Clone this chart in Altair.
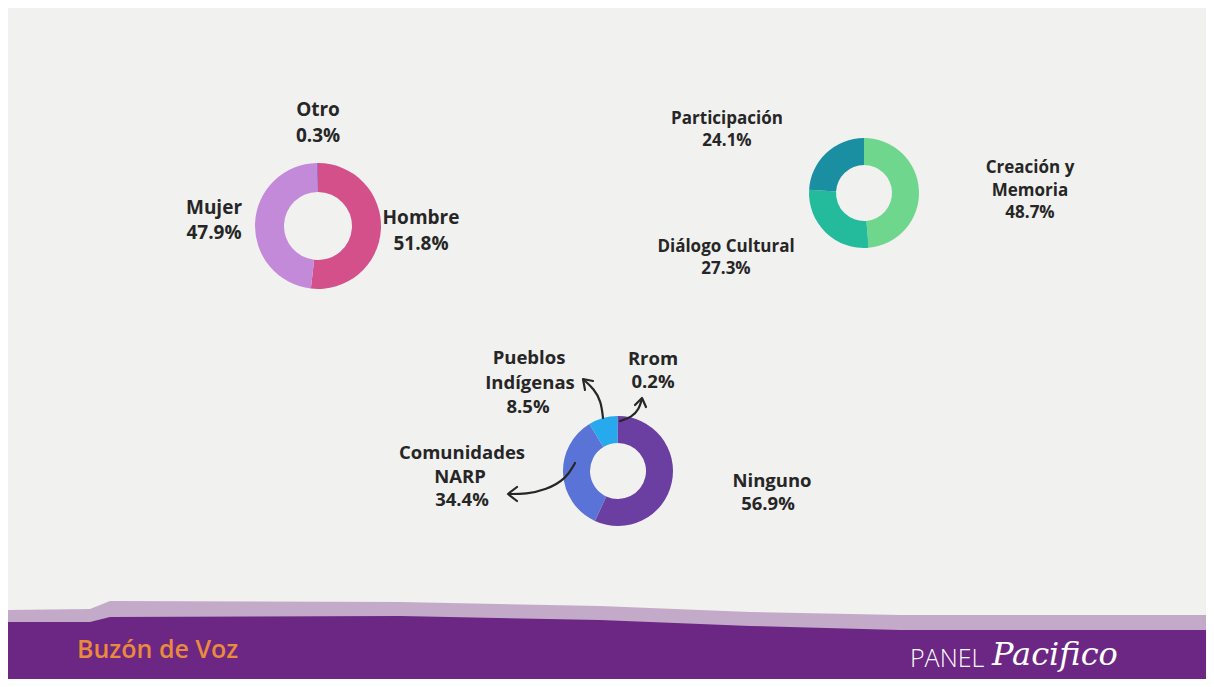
import altair as alt
import pandas as pd

# ---------------- data ----------------
gender_cat = ["Hombre", "Mujer", "Otro"]
gender_val = [51.8, 47.9, 0.3]
gender_col = ["#d4508b", "#c38ad9", "#a070c8"]

axis_cat = ["Creación y Memoria", "Diálogo Cultural", "Participación"]
axis_val = [48.7, 27.3, 24.1]
axis_col = ["#6fd68d", "#24bb9c", "#1b8fa2"]

ethn_cat = ["Ninguno", "Comunidades NARP", "Pueblos Indígenas", "Rrom"]
ethn_val = [56.9, 34.4, 8.5, 0.2]
ethn_col = ["#6b3fa1", "#5a73d7", "#27a9ed", "#3d6fd4"]

# label lines per donut: (text, x, y)
gender_labels = [("Otro", 318, 110), ("0.3%", 318, 136),
                 ("Mujer", 214, 208), ("47.9%", 214, 233),
                 ("Hombre", 421, 218), ("51.8%", 421, 244)]
axis_labels = [("Participación", 727, 119), ("24.1%", 727, 141),
               ("Creación y", 1030, 168), ("Memoria", 1030, 191), ("48.7%", 1030, 213),
               ("Diálogo Cultural", 726, 247), ("27.3%", 726, 269)]
ethn_labels = [("Pueblos", 529, 358), ("Indígenas", 530, 383), ("8.5%", 528, 407),
               ("Rrom", 653, 359), ("0.2%", 653, 382),
               ("Comunidades", 462, 453), ("NARP", 460, 477), ("34.4%", 462, 500),
               ("Ninguno", 772, 481), ("56.9%", 768, 504)]

# donut layout: center x, center y, inner radius, outer radius
gender_geo = (318, 226, 34, 63)
axis_geo = (864, 193, 28, 55)
ethn_geo = (618, 471, 28, 55)

# annotation arrows (shaft points, head points)
arrow_shafts = {
    "pueblos": [(603, 418), (601, 401), (594, 389), (584, 380)],
    "rrom": [(620, 421), (632, 417), (639, 409), (642, 399)],
    "narp": [(575, 463), (566, 479), (546, 490), (526, 494), (509, 494)],
}
arrow_heads = {
    "pueblos": [(585, 390), (583, 379), (593, 381)],
    "rrom": [(635, 405), (642, 398), (646, 407)],
    "narp": [(517, 487), (508, 494), (517, 501)],
}

# footer band top-edge profiles (x, top y)
band_solid = [(8, 622), (90, 622), (110, 617), (400, 616), (600, 620), (750, 626), (900, 630), (1206, 630)]
band_rough = [(8, 610), (90, 609), (110, 601), (400, 602), (600, 606), (750, 612), (900, 615), (1206, 615)]

footer_left = "Buzón de Voz"
footer_right_a = "PANEL"
footer_right_b = "Pacifico"

BG = "#f1f1ef"
PURPLE = "#6c2683"
TEXT = "#262626"

# ---------------- scales ----------------
W, H = 1198, 671
BOTTOM = 8 + H
xs = alt.Scale(domain=[8, 8 + W], nice=False, zero=False)
ys = alt.Scale(domain=[BOTTOM, 8], nice=False, zero=False)


def X(f):
    return alt.X(f, type="quantitative", scale=xs, axis=None)


def Y(f):
    return alt.Y(f, type="quantitative", scale=ys, axis=None)


def donut(cats, vals, cols, geo):
    cx, cy, r0, r1 = geo
    df = pd.DataFrame({"cat": cats, "val": vals, "col": cols,
                       "ord": list(range(len(cats))), "cx": cx, "cy": cy})
    return alt.Chart(df).mark_arc(innerRadius=r0, radius=r1).encode(
        theta=alt.Theta("val:Q", stack=True),
        order=alt.Order("ord:Q"),
        color=alt.Color("col:N", scale=None),
        x=X("cx"), y=Y("cy"),
    )


def labels(rows, size):
    df = pd.DataFrame(rows, columns=["t", "x", "y"])
    return alt.Chart(df).mark_text(font="Open Sans", fontWeight="bold", fontSize=size,
                                   color=TEXT, baseline="middle", align="center").encode(
        x=X("x"), y=Y("y"), text="t:N")


def band_area(profile, opacity):
    df = pd.DataFrame(profile, columns=["x", "y"])
    df["y2"] = BOTTOM
    return alt.Chart(df).mark_area(color=PURPLE, opacity=opacity).encode(
        x=X("x"), y=Y("y"), y2="y2")


# arrows
shaft_rows = [(k, i, x, y) for k, pts in arrow_shafts.items() for i, (x, y) in enumerate(pts)]
head_rows = [(k, i, x, y) for k, pts in arrow_heads.items() for i, (x, y) in enumerate(pts)]
shafts = alt.Chart(pd.DataFrame(shaft_rows, columns=["g", "o", "x", "y"])).mark_line(
    color=TEXT, strokeWidth=2.2, interpolate="basis", strokeCap="round").encode(
    x=X("x"), y=Y("y"), detail="g:N", order="o:Q")
heads = alt.Chart(pd.DataFrame(head_rows, columns=["g", "o", "x", "y"])).mark_line(
    color=TEXT, strokeWidth=2.2, strokeCap="round", strokeJoin="round").encode(
    x=X("x"), y=Y("y"), detail="g:N", order="o:Q")

foot_df = pd.DataFrame({"t": [footer_left], "x": [77], "y": [650]})
foot_left = alt.Chart(foot_df).mark_text(font="Open Sans", fontSize=25, fontWeight=600,
                                          color="#e98a3c", align="left", baseline="middle").encode(
    x=X("x"), y=Y("y"), text="t:N")
panel_df = pd.DataFrame({"t": [footer_right_a], "x": [910], "y": [659]})
panel = alt.Chart(panel_df).mark_text(font="Open Sans", fontSize=25, fontWeight=300,
                                       color="white", align="left", baseline="middle").encode(
    x=X("x"), y=Y("y"), text="t:N")
pac_df = pd.DataFrame({"t": [footer_right_b], "x": [992], "y": [655]})
pac = alt.Chart(pac_df).mark_text(font="DejaVu Serif", fontSize=32, fontStyle="italic",
                                   color="white", align="left", baseline="middle").encode(
    x=X("x"), y=Y("y"), text="t:N")

chart = alt.layer(
    band_area(band_rough, 0.35),
    band_area(band_solid, 1.0),
    donut(gender_cat, gender_val, gender_col, gender_geo),
    donut(axis_cat, axis_val, axis_col, axis_geo),
    donut(ethn_cat, ethn_val, ethn_col, ethn_geo),
    shafts, heads,
    labels(gender_labels, 19), labels(axis_labels, 17), labels(ethn_labels, 18.5),
    foot_left, panel, pac,
).resolve_scale(theta="independent").properties(
    width=W, height=H, padding=0, autosize=alt.AutoSizeParams(type="none"),
    background=BG,
).configure_view(stroke=None)

chart.save("out.html", embed_options={"renderer": "svg", "actions": False})
